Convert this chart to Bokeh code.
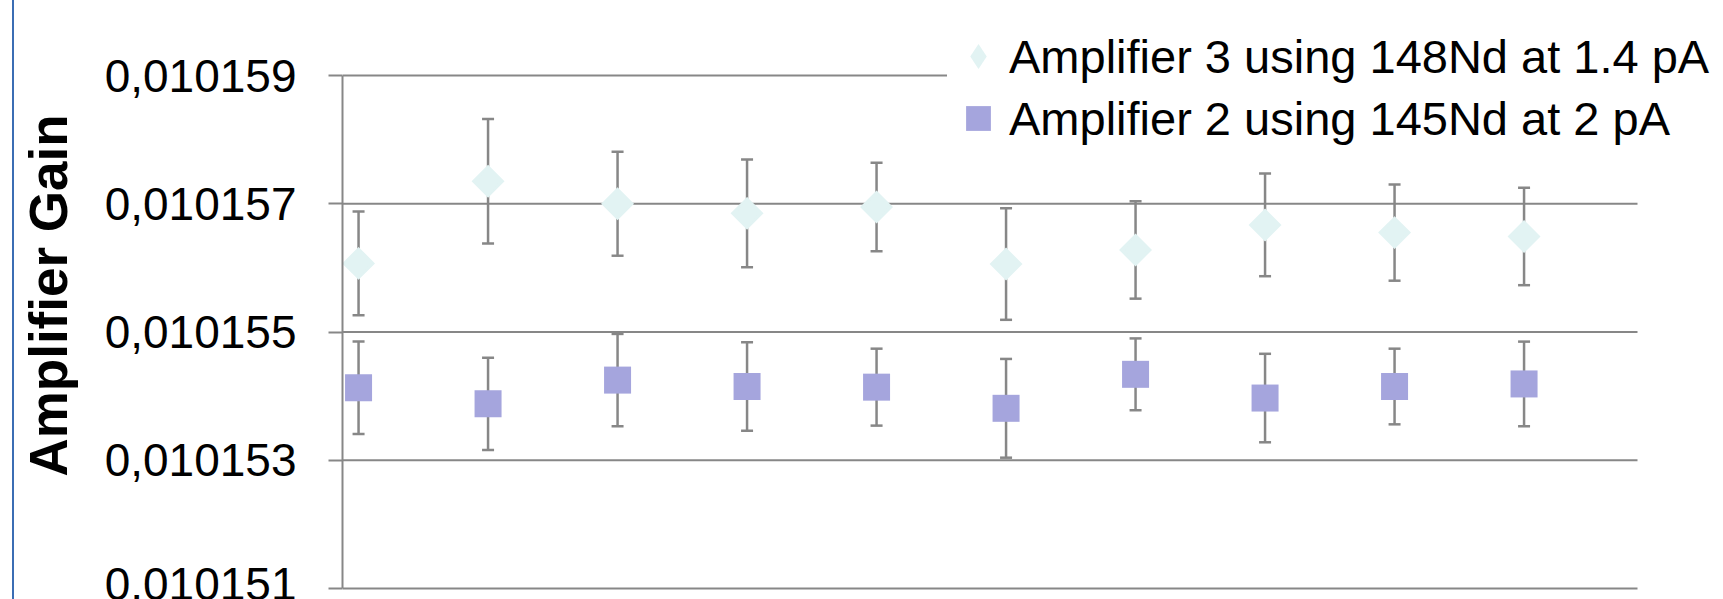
import math
from bokeh.plotting import figure
from bokeh.models import (ColumnDataSource, Whisker, TeeHead, Range1d, FixedTicker,
                          Legend, LegendItem)
from bokeh.embed import file_html
from bokeh.resources import INLINE

# ---- data ----
run = [1, 2, 3, 4, 5, 6, 7, 8, 9, 10]
amp3_gain = [0.01015607, 0.01015735, 0.01015700, 0.01015685, 0.01015695,
             0.01015606, 0.01015628, 0.01015667, 0.01015655, 0.01015649]
amp3_err = [0.00000081, 0.00000097, 0.00000081, 0.00000084, 0.00000069,
            0.00000087, 0.00000076, 0.00000080, 0.00000075, 0.00000076]
amp2_gain = [0.01015413, 0.01015388, 0.01015425, 0.01015415, 0.01015414,
             0.01015381, 0.01015434, 0.01015397, 0.01015415, 0.01015419]
amp2_err = [0.00000072, 0.00000072, 0.00000072, 0.00000069, 0.00000060,
            0.00000077, 0.00000056, 0.00000069, 0.00000059, 0.00000066]
y_ticks = [0.010151, 0.010153, 0.010155, 0.010157, 0.010159]
y_tick_labels = ["0,010151", "0,010153", "0,010155", "0,010157", "0,010159"]
label3 = "Amplifier 3 using 148Nd at 1.4 pA"
label2 = "Amplifier 2 using 145Nd at 2 pA"
y_title = "Amplifier Gain"

# plot-area extent (axis coordinates of the original chart area)
X_LO, X_HI = 0.876, 10.876
Y_LO, Y_HI = y_ticks[0], y_ticks[-1]

FONT = "Liberation Sans"
GRAY = "#878787"
C3 = "#E2F3F3"
C2 = "#A5A5DD"

W, H = 1709, 599
LEFT, BOTTOM, TOP_PX = 328, 9, 75          # frame left / bottom border, px above top gridline
PLOT_W = 1295                              # px width of the chart area
PLOT_H = 513                               # px height between bottom and top gridlines
frame_w = W - LEFT
frame_h = H - BOTTOM
x_per_px = (X_HI - X_LO) / PLOT_W
y_per_px = (Y_HI - Y_LO) / PLOT_H
bottom_pad = (frame_h - TOP_PX - PLOT_H)

p = figure(width=W, height=H, output_backend="svg", toolbar_location=None,
           x_range=Range1d(X_LO, X_LO + frame_w * x_per_px),
           y_range=Range1d(Y_LO - bottom_pad * y_per_px, Y_HI + TOP_PX * y_per_px),
           min_border_left=LEFT, min_border_right=0,
           min_border_top=0, min_border_bottom=BOTTOM,
           background_fill_color="white", border_fill_color="white",
           outline_line_color=None)
p.title.visible = False
p.styles = {"margin-left": "12px", "border-left": "2px solid #3B6DB4"}

p.xaxis.visible = False
p.xgrid.visible = False
p.ygrid.visible = False

p.yaxis.ticker = FixedTicker(ticks=y_ticks)
p.yaxis.bounds = (Y_LO, Y_HI)
p.yaxis.major_label_overrides = {t: s for t, s in zip(y_ticks, y_tick_labels)}
p.yaxis.major_label_text_font = FONT
p.yaxis.major_label_text_font_size = "46px"
p.yaxis.major_label_text_color = "black"
p.yaxis.major_tick_out = 14
p.yaxis.major_tick_in = 0
p.yaxis.minor_tick_out = 0
p.yaxis.minor_tick_in = 0
p.yaxis.major_tick_line_color = GRAY
p.yaxis.major_tick_line_width = 2
p.yaxis.axis_line_color = GRAY
p.yaxis.axis_line_width = 2
p.yaxis.major_label_standoff = 32
p.yaxis.axis_label = y_title
p.yaxis.axis_label_text_font = FONT
p.yaxis.axis_label_text_font_style = "bold"
p.yaxis.axis_label_text_font_size = "53px"
p.yaxis.axis_label_text_color = "black"
p.yaxis.axis_label_standoff = 24

# horizontal gridlines, limited to the chart area
grid = p.segment(x0=[X_LO] * len(y_ticks), x1=[X_HI] * len(y_ticks),
                 y0=y_ticks, y1=y_ticks, line_color=GRAY, line_width=2)
grid.level = "underlay"

src3 = ColumnDataSource(dict(x=run, y=amp3_gain,
                             upper=[g + e for g, e in zip(amp3_gain, amp3_err)],
                             lower=[g - e for g, e in zip(amp3_gain, amp3_err)]))
src2 = ColumnDataSource(dict(x=run, y=amp2_gain,
                             upper=[g + e for g, e in zip(amp2_gain, amp2_err)],
                             lower=[g - e for g, e in zip(amp2_gain, amp2_err)]))

for src in (src3, src2):
    w = Whisker(base="x", upper="upper", lower="lower", source=src, dimension="height",
                line_color=GRAY, line_width=2.5,
                upper_head=TeeHead(size=12, line_color=GRAY, line_width=2.5),
                lower_head=TeeHead(size=12, line_color=GRAY, line_width=2.5))
    w.level = "underlay"
    p.add_layout(w)

# diamonds: a 45-degree square gives the equal-sided diamond of the original
r3 = p.scatter("x", "y", source=src3, marker="square", size=23.3, angle=math.pi / 4,
               fill_color=C3, line_color=None)
# same points as a 'diamond' marker (fits inside the square above) - used for the legend glyph
r3_leg = p.scatter("x", "y", source=src3, marker="diamond", size=32,
                   fill_color=C3, line_color=None)
r2 = p.scatter("x", "y", source=src2, marker="square", size=27,
               fill_color=C2, line_color=None)

# legend: top-left corner at (947, 15) px in the page
leg_h = 2 * 62 + 2 * 5
legend = Legend(items=[LegendItem(label=label3, renderers=[r3_leg]),
                       LegendItem(label=label2, renderers=[r2])],
                location=(947 - 14 - LEFT, frame_h - 15 - leg_h), orientation="vertical",
                glyph_width=62, glyph_height=62, label_standoff=0,
                spacing=0, padding=5, margin=0,
                label_text_font=FONT, label_text_font_size="47px",
                label_text_color="black", label_height=62,
                background_fill_color="white", background_fill_alpha=1.0,
                border_line_color=None)
p.add_layout(legend)

open("out.html", "w").write(file_html(p, INLINE))
